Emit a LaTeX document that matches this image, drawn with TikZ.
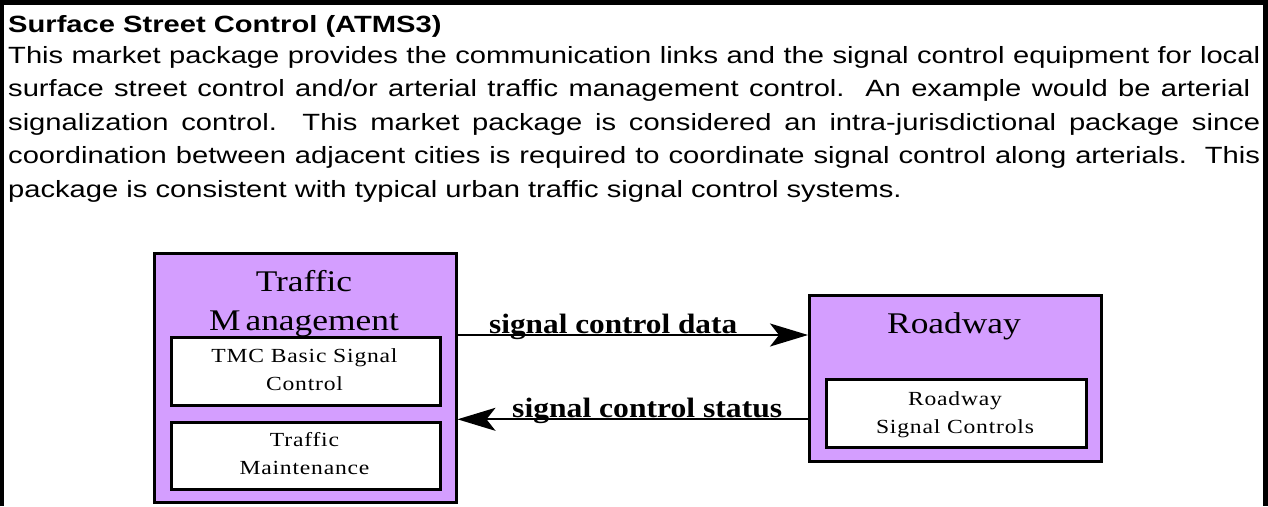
\documentclass[tikz,border=0pt]{standalone}
\usepackage{fontspec}
\usepackage{graphicx}
\usetikzlibrary{arrows.meta}
\newfontfamily\bodyfont{Liberation Sans}[FakeStretch=1.24]
\newfontfamily\serifA{Liberation Serif}[FakeStretch=1.18]
\newfontfamily\serifB{Liberation Serif}[FakeStretch=1.18,LetterSpace=4]
\definecolor{boxpurple}{RGB}{212,158,255}
\tikzset{
  pkgbox/.style={draw=black, fill=boxpurple, line width=2.5pt, inner sep=0pt, anchor=north west},
  subbox/.style={draw=black, fill=white, line width=2.5pt, inner sep=0pt, anchor=north west},
  bodyline/.style={anchor=base west, inner sep=0pt, font=\bodyfont\fontsize{23.5}{28}\selectfont},
  boxtitle/.style={anchor=base, inner sep=0pt, font=\serifA\fontsize{30}{34}\selectfont},
  subtext/.style={anchor=base, inner sep=0pt, font=\serifB\fontsize{20}{24}\selectfont},
  flowlabel/.style={anchor=base west, inner sep=0pt, font=\serifA\bfseries\fontsize{28}{32}\selectfont},
  flow/.style={line width=2pt, -{Stealth[length=38pt, width=23pt, inset=9pt]}},
}
\begin{document}
\begin{tikzpicture}[x=1pt, y=-1pt]
\useasboundingbox (0,0) rectangle (1268,506);
% outer frame (no bottom side)
\draw[line width=3.5pt] (1.75,506) -- (1.75,0);
\draw[line width=5pt] (0,2.5) -- (1268,2.5);
\draw[line width=5pt] (1265.5,0) -- (1265.5,506);
% title and description
\node[bodyline, font=\bodyfont\bfseries\fontsize{23.5}{28}\selectfont] (title) at (8,32.5) {Surface Street Control (ATMS3)};
\node[bodyline] (l1) at (8,63.5) {\makebox[1252pt][s]{This market package provides the communication links and the signal control equipment for local}};
\node[bodyline] (l2) at (8,96.9) {\makebox[1242pt][s]{surface street control and/or arterial traffic management control.\ \ An example would be arterial}};
\node[bodyline] (l3) at (8,130.3) {\makebox[1252pt][s]{signalization control.\ \ This market package is considered an intra-jurisdictional package since}};
\node[bodyline] (l4) at (8,163.7) {\makebox[1252pt][s]{coordination between adjacent cities is required to coordinate signal control along arterials.\ \ This}};
\node[bodyline] (l5) at (8,197.1) {package is consistent with typical urban traffic signal control systems.};
% Traffic Management
\node[pkgbox, minimum width=302pt, minimum height=249pt] (tm) at (153,252) {};
\node[boxtitle] (tmt1) at (304,291.7) {Traffic};
\node[boxtitle] (tmt2) at (304,330) {M\hspace{5pt}anagement};
\node[subbox, minimum width=269pt, minimum height=68pt] (tmc) at (170,336) {};
\node[subtext] (tmc1) at (304.5,362.7) {TMC Basic Signal};
\node[subtext] (tmc2) at (304.5,390) {Control};
\node[subbox, minimum width=269pt, minimum height=67pt] (tmm) at (170,421) {};
\node[subtext] (tmm1) at (304.5,446.7) {Traffic};
\node[subtext] (tmm2) at (304.5,474) {Maintenance};
% Roadway
\node[pkgbox, minimum width=292pt, minimum height=166pt] (rw) at (808,294) {};
\node[boxtitle] (rwt) at (954,333.3) {Roadway};
\node[subbox, minimum width=260pt, minimum height=68pt] (rsc) at (825,378) {};
\node[subtext] (rsc1) at (955,405) {Roadway};
\node[subtext] (rsc2) at (955,433) {Signal Controls};
% flows
\coordinate (y1) at (0,335);
\coordinate (y2) at (0,419.3);
\draw[flow] (tm.east |- y1) -- (rw.west |- y1);
\draw[flow] (rw.west |- y2) -- (tm.east |- y2);
\node[flowlabel] (f1) at (489,333.3) {\resizebox{248pt}{\height}{signal control data}};
\node[flowlabel] (f2) at (512,417.7) {\resizebox{270pt}{\height}{signal control status}};
\end{tikzpicture}
\end{document}
